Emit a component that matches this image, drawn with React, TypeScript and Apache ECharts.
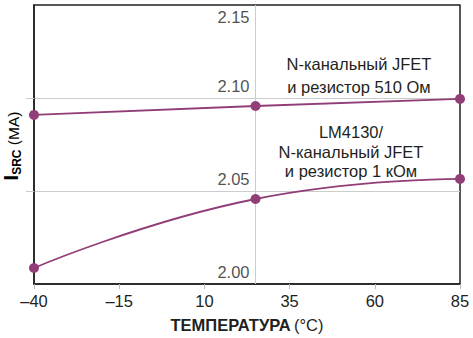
import React, { useEffect, useRef } from "react";
import * as echarts from "echarts";

const temps = [-40, 25, 85];
const jfet510 = [2.0909, 2.0957, 2.0995];
const lm4130 = [2.0086, 2.0457, 2.0565];
const xTicks = [-40, -15, 10, 35, 60, 85];
const yTicks = [2.0, 2.05, 2.1, 2.15];
const annotationUpper = ["N-канальный JFET", "и резистор 510 Ом"];
const annotationLower = ["LM4130/", "N-канальный JFET", "и резистор 1 кОм"];

const PURPLE = "#913d77";
const FONT = "Liberation Sans, Arial, sans-serif";
const FS = 16.5;

export default function App() {
  const ref = useRef<HTMLDivElement>(null);
  useEffect(() => {
    if (!ref.current) return;
    const chart = echarts.init(ref.current, undefined, { renderer: "svg" });
    const fmt = (v: number) => (v < 0 ? "\u2013" + Math.abs(v) : String(v));
    chart.setOption({
      animation: false,
      textStyle: { fontFamily: FONT },
      grid: {
        left: 34,
        right: 13,
        top: 5,
        bottom: 54,
        show: true,
        borderColor: "#231f20",
        borderWidth: 1.5,
      },
      xAxis: {
        type: "value",
        min: -40,
        max: 85,
        name: "{b|ТЕМПЕРАТУРА} {n|(°C)}",
        nameLocation: "middle",
        nameGap: 32,
        nameTextStyle: {
          rich: {
            b: { fontFamily: FONT, fontSize: FS, fontWeight: "bold", color: "#231f20" },
            n: { fontFamily: FONT, fontSize: FS, color: "#231f20" },
          },
        },
        axisLine: { show: true, onZero: false, lineStyle: { color: "#231f20", width: 1.5 } },
        axisTick: {
          show: true,
          customValues: xTicks,
          length: 5,
          lineStyle: { color: "#bbbbbb" },
        },
        axisLabel: {
          customValues: xTicks,
          formatter: (v: number) => fmt(v),
          fontFamily: FONT,
          fontSize: FS,
          color: "#231f20",
          margin: 8,
        },
        splitLine: { show: false },
      },
      yAxis: {
        type: "value",
        min: 2.0,
        max: 2.15,
        interval: 0.05,
        axisLine: { show: true, onZero: false, lineStyle: { color: "#231f20", width: 1.5 } },
        axisTick: {
          show: true,
          customValues: [2.05, 2.1],
          length: 8,
          lineStyle: { color: "#cccccc" },
        },
        axisLabel: { show: false },
        splitLine: { show: true, lineStyle: { color: "#cccccc", width: 1 } },
      },
      graphic: [
        {
          type: "text",
          x: 11,
          y: 146,
          rotation: Math.PI / 2,
          style: {
            text: "{i|I}{s|SRC}{n| (MA)}",
            align: "center",
            verticalAlign: "middle",
            rich: {
              i: { fontFamily: FONT, fontSize: 20, fontWeight: "bold", color: "#231f20", verticalAlign: "bottom" },
              s: { fontFamily: FONT, fontSize: 12, fontWeight: "bold", color: "#231f20", verticalAlign: "bottom", padding: [0, 0, -2, 0] },
              n: { fontFamily: FONT, fontSize: 15.5, color: "#231f20", verticalAlign: "bottom" },
            },
          },
        },
        {
          type: "text",
          x: 359,
          y: 75.5,
          style: {
            text: annotationUpper.join("\n"),
            align: "center",
            verticalAlign: "middle",
            lineHeight: 23,
            fontFamily: FONT,
            fontSize: FS,
            fill: "#231f20",
          },
        },
        {
          type: "text",
          x: 351,
          y: 151.5,
          style: {
            text: annotationLower.join("\n"),
            align: "center",
            verticalAlign: "middle",
            lineHeight: 19.5,
            fontFamily: FONT,
            fontSize: FS,
            fill: "#231f20",
          },
        },
      ],
      series: [
        {
          type: "line",
          data: temps.map((t, i) => [t, jfet510[i]]),
          smooth: true,
          symbol: "circle",
          symbolSize: 10,
          lineStyle: { color: PURPLE, width: 1.8 },
          itemStyle: { color: PURPLE },
          z: 5,
          markLine: {
            silent: true,
            symbol: "none",
            label: { show: false },
            lineStyle: { color: "#cccccc", width: 1, type: "solid" },
            data: [{ xAxis: 25 }],
            z: 1,
          },
        },
        {
          type: "line",
          data: temps.map((t, i) => [t, lm4130[i]]),
          smooth: true,
          symbol: "circle",
          symbolSize: 10,
          lineStyle: { color: PURPLE, width: 1.8 },
          itemStyle: { color: PURPLE },
          z: 5,
        },
        {
          type: "scatter",
          silent: true,
          symbolSize: 0,
          data: yTicks.map((v) => ({
            value: [25, v],
            label: { offset: v >= 2.15 ? [0, 12] : [0, -12] },
          })),
          label: {
            show: true,
            position: "left",
            distance: 6,
            formatter: (p: any) => p.value[1].toFixed(2),
            fontFamily: FONT,
            fontSize: FS,
            color: "#231f20",
          },
          z: 3,
        },
      ],
    });
    return () => chart.dispose();
  }, []);
  return (
    <div
      ref={ref}
      style={{ position: "absolute", left: 0, top: 0, width: 473, height: 338 }}
    />
  );
}
